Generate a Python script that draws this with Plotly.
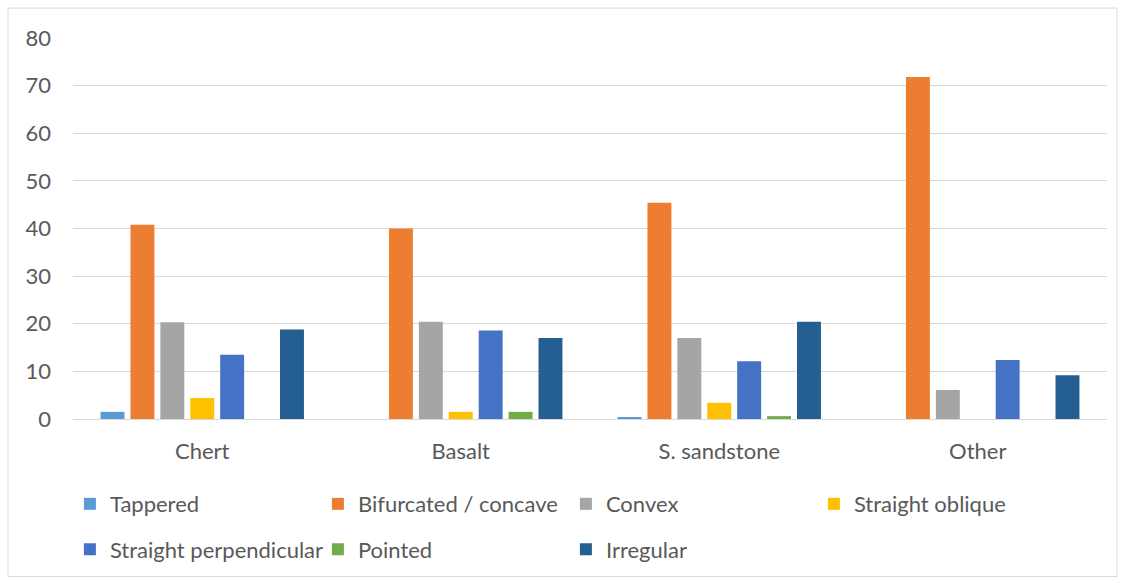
import plotly.graph_objects as go

categories = ["Chert", "Basalt", "S. sandstone", "Other"]
series_names = ["Tappered", "Bifurcated / concave", "Convex", "Straight oblique",
                "Straight perpendicular", "Pointed", "Irregular"]
tappered = [1.5, 0, 0.3, 0]
bifurcated = [40.8, 40.0, 45.4, 71.8]
convex = [20.3, 20.4, 17.0, 6.1]
straight_oblique = [4.4, 1.5, 3.4, 0]
straight_perp = [13.5, 18.6, 12.1, 12.4]
pointed = [0, 1.5, 0.6, 0]
irregular = [18.8, 17.0, 20.4, 9.2]
y_ticks = [0, 10, 20, 30, 40, 50, 60, 70, 80]

values = [tappered, bifurcated, convex, straight_oblique, straight_perp, pointed, irregular]
colors = ["#5B9BD5", "#ED7D31", "#A5A5A5", "#FFC000", "#4472C4", "#70AD47", "#255E91"]
legends = ["legend", "legend", "legend", "legend", "legend2", "legend2", "legend2"]

FONT = "Lato, Open Sans, sans-serif"
FS = 22
fig = go.Figure()
for name, vals, col, lg in zip(series_names, values, colors, legends):
    fig.add_trace(go.Bar(x=categories, y=vals, name=name, marker_color=col,
                         marker_line_width=0, legend=lg))

legend_common = dict(orientation="h", xanchor="left", yanchor="top",
                     font=dict(family=FONT, size=FS, color="#595959"),
                     entrywidth=203, entrywidthmode="pixels",
                     bgcolor="rgba(0,0,0,0)", itemclick=False)

fig.update_layout(
    width=1123, height=581,
    margin=dict(l=73, r=16, t=38, b=161),
    paper_bgcolor="white", plot_bgcolor="white",
    barmode="group", bargap=0.19, bargroupgap=0.2,
    font=dict(family=FONT, size=FS, color="#595959"),
    legend=dict(x=-0.003, y=-0.165, **legend_common),
    legend2=dict(x=-0.003, y=-0.284, **legend_common),
    xaxis=dict(showgrid=False, showline=True, linecolor="#d9d9d9", linewidth=1,
               ticks="", ticklabelstandoff=13,
               tickfont=dict(family=FONT, size=FS, color="#595959")),
    yaxis=dict(range=[0, 80], tickvals=y_ticks, showgrid=True, gridcolor="#d9d9d9",
               gridwidth=1, zeroline=False, ticks="", ticklabelstandoff=21,
               tickfont=dict(family=FONT, size=FS, color="#595959")),
    shapes=[dict(type="rect", xref="paper", yref="paper",
                 x0=(8 - 73) / 1034, x1=(1117 - 73) / 1034,
                 y0=(420 - 578) / 382, y1=(420 - 8) / 382,
                 line=dict(color="#d9d9d9", width=1), fillcolor="rgba(0,0,0,0)",
                 layer="below")],
)

fig.write_html("out.html", config={"displayModeBar": False},
               post_script="document.body.style.margin='0';")
